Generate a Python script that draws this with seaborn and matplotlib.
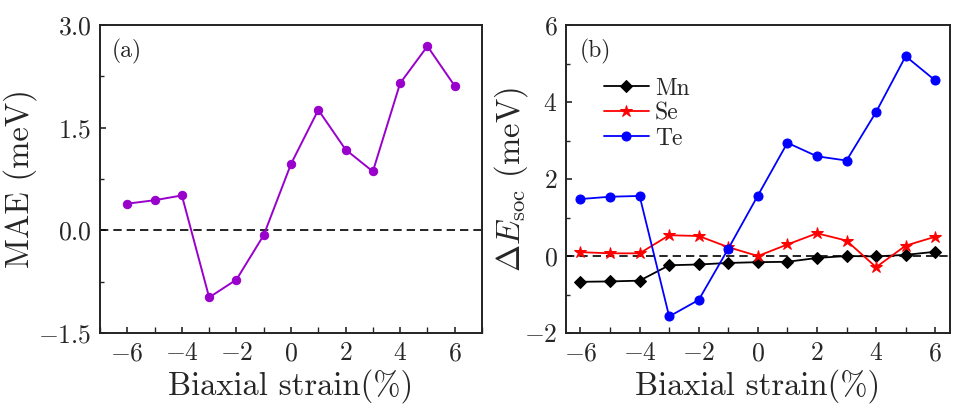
import matplotlib
matplotlib.use("Agg")
import matplotlib.pyplot as plt
import seaborn as sns
import numpy as np
from matplotlib.ticker import MultipleLocator

sns.set_style("ticks")
plt.rcParams["font.family"] = ["cmr10"]
plt.rcParams["mathtext.fontset"] = "cm"
plt.rcParams["axes.formatter.use_mathtext"] = True
plt.rcParams["axes.unicode_minus"] = True

strain = [-6, -5, -4, -3, -2, -1, 0, 1, 2, 3, 4, 5, 6]
mae = [0.39, 0.44, 0.51, -0.98, -0.72, -0.07, 0.97, 1.76, 1.18, 0.86, 2.15, 2.69, 2.11]
mn = [-0.67, -0.66, -0.64, -0.24, -0.22, -0.18, -0.16, -0.15, -0.05, 0.0, -0.01, 0.03, 0.11]
se = [0.10, 0.07, 0.07, 0.54, 0.52, 0.23, 0.0, 0.30, 0.59, 0.40, -0.29, 0.27, 0.50]
te = [1.48, 1.54, 1.56, -1.57, -1.14, 0.19, 1.57, 2.94, 2.59, 2.48, 3.74, 5.19, 4.56]

fig = plt.figure(figsize=(9.59, 4.12), dpi=100)
ax1 = fig.add_axes([0.1043, 0.1917, 0.3983, 0.7476])
ax2 = fig.add_axes([0.5899, 0.1917, 0.4007, 0.7476])

label_fs = 23.5
tick_fs = 18.5

# Panel (a)
ax1.axhline(0, color="black", ls=(0, (5, 3)), lw=1.2, zorder=1)
sns.lineplot(x=strain, y=mae, ax=ax1, color="#9900CC", marker="o", markersize=6,
             markeredgecolor="#9900CC", lw=1.4, zorder=3)
ax1.set_xlim(-7, 7)
ax1.set_ylim(-1.5, 3.0)
ax1.xaxis.set_major_locator(MultipleLocator(2))
ax1.xaxis.set_minor_locator(MultipleLocator(1))
ax1.yaxis.set_major_locator(MultipleLocator(1.5))
ax1.yaxis.set_minor_locator(MultipleLocator(0.75))
ax1.set_xlabel("Biaxial strain(%)", fontsize=label_fs, labelpad=3)
ax1.set_ylabel("MAE (meV)", fontsize=label_fs)
ax1.yaxis.set_label_coords(-0.165, 0.5)
ax1.text(0.03, 0.955, "(a)", transform=ax1.transAxes, fontsize=17, va="top", ha="left")

# Panel (b)
ax2.axhline(0, color="black", ls=(0, (5, 3)), lw=1.2, zorder=1)
sns.lineplot(x=strain, y=mn, ax=ax2, color="black", marker="D", markersize=6,
             markeredgecolor="black", lw=1.3, label="Mn", zorder=3)
sns.lineplot(x=strain, y=se, ax=ax2, color="#FF0000", marker="*", markersize=9,
             markeredgecolor="#FF0000", lw=1.3, label="Se", zorder=3)
sns.lineplot(x=strain, y=te, ax=ax2, color="#0000FF", marker="o", markersize=6.5,
             markeredgecolor="#0000FF", lw=1.3, label="Te", zorder=3)
ax2.set_xlim(-6.5, 6.5)
ax2.set_ylim(-2, 6)
ax2.xaxis.set_major_locator(MultipleLocator(2))
ax2.xaxis.set_minor_locator(MultipleLocator(1))
ax2.yaxis.set_major_locator(MultipleLocator(2))
ax2.yaxis.set_minor_locator(MultipleLocator(1))
ax2.set_xlabel("Biaxial strain(%)", fontsize=label_fs, labelpad=3)
ax2.set_ylabel(r"$\Delta E_{\rm soc}$ (meV)", fontsize=label_fs)
ax2.yaxis.set_label_coords(-0.093, 0.5)
ax2.text(0.037, 0.955, "(b)", transform=ax2.transAxes, fontsize=17, va="top", ha="left")
ax2.legend(loc="upper left", bbox_to_anchor=(0.075, 0.86), frameon=False, fontsize=17,
           handlelength=1.9, labelspacing=0.12, handletextpad=0.25, borderaxespad=0)

for ax in (ax1, ax2):
    for s in ax.spines.values():
        s.set_linewidth(1.4)
        s.set_color("#222222")
    ax.tick_params(which="major", direction="in", length=4, width=1.2, labelsize=tick_fs, pad=6)
    ax.tick_params(which="minor", direction="in", length=3, width=1.0)
    ax.tick_params(axis="x", which="both", length=4)

fig.savefig("out.png", dpi=100)
